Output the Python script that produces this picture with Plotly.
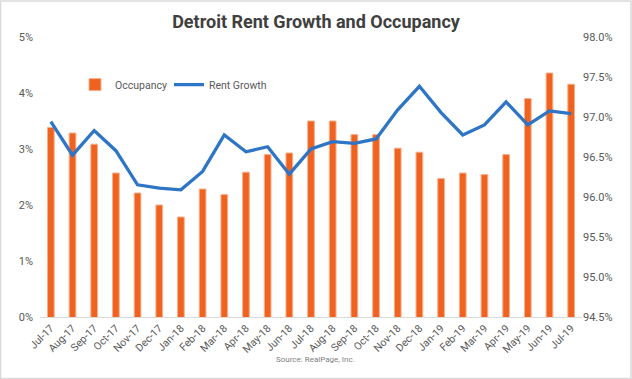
import plotly.graph_objects as go

months = ["Jul-17","Aug-17","Sep-17","Oct-17","Nov-17","Dec-17","Jan-18","Feb-18","Mar-18",
          "Apr-18","May-18","Jun-18","Jul-18","Aug-18","Sep-18","Oct-18","Nov-18","Dec-18",
          "Jan-19","Feb-19","Mar-19","Apr-19","May-19","Jun-19","Jul-19"]
occupancy = [96.87,96.80,96.66,96.30,96.05,95.90,95.75,96.10,96.03,96.31,96.53,96.55,96.95,
             96.95,96.78,96.78,96.61,96.56,96.23,96.30,96.28,96.53,97.23,97.55,97.41]
rent_growth = [3.49,2.89,3.33,2.97,2.36,2.30,2.27,2.60,3.25,2.95,3.04,2.55,3.00,
               3.13,3.10,3.18,3.70,4.12,3.65,3.25,3.43,3.84,3.43,3.68,3.63]
left_ticks = [0,1,2,3,4,5]
right_ticks = [94.5,95.0,95.5,96.0,96.5,97.0,97.5,98.0]

FONT = "Roboto"
fig = go.Figure()
fig.add_trace(go.Bar(x=months, y=occupancy, name="Occupancy", yaxis="y", legend="legend",
                     marker=dict(color="#F0621F", line=dict(color="#F7B08E", width=1)),
                     width=0.31))
fig.add_trace(go.Scatter(x=months, y=rent_growth, name="Rent Growth", mode="lines", yaxis="y2",
                         legend="legend2", line=dict(color="#2E75C6", width=3.3)))

leg_common = dict(orientation="h", y=0.83, xanchor="left", yanchor="middle", itemwidth=30,
                  bgcolor="rgba(0,0,0,0)", font=dict(size=10.5, color="#595959"))
fig.update_layout(
    width=632, height=379,
    margin=dict(l=40, r=50, t=37, b=62),
    paper_bgcolor="white", plot_bgcolor="white",
    font=dict(family=FONT, color="#595959", size=11),
    title=dict(text="<b>Detroit Rent Growth and Occupancy</b>", x=0.5, xanchor="center",
               y=1-22/379, yanchor="middle", font=dict(family=FONT, size=18, color="#404040")),
    xaxis=dict(tickangle=-45, showgrid=False, showline=True, linecolor="#D9D9D9",
               ticks="", tickfont=dict(size=10.5, color="#595959"), automargin=False),
    yaxis=dict(range=[94.5,98.0], tickvals=right_ticks, ticktext=[f"{v:.1f}%" for v in right_ticks],
               side="right", showgrid=False, zeroline=False, showline=False, ticks="",
               automargin=False),
    yaxis2=dict(range=[0,5], tickvals=left_ticks, ticktext=[f"{v}%" for v in left_ticks],
                overlaying="y", side="left", showgrid=False, zeroline=False, showline=False, ticks="",
                ticklabelstandoff=6, automargin=False),
    legend=dict(x=0.0646, **leg_common),
    legend2=dict(x=0.238, **leg_common),
    showlegend=True,
)
fig.add_annotation(text="Source: RealPage, Inc.", xref="paper", yref="paper",
                   x=0.509, y=-0.175, showarrow=False, font=dict(size=8, color="#7F7F7F"))
fig.add_shape(type="rect", xref="paper", yref="paper",
              x0=-39.5/542, x1=1+49/542, y0=-61.5/280, y1=1+36/280,
              line=dict(color="#D9D9D9", width=1.5))
fig.write_html("out.html", config={"displayModeBar": False},
               post_script="document.body.style.margin='0px';")
